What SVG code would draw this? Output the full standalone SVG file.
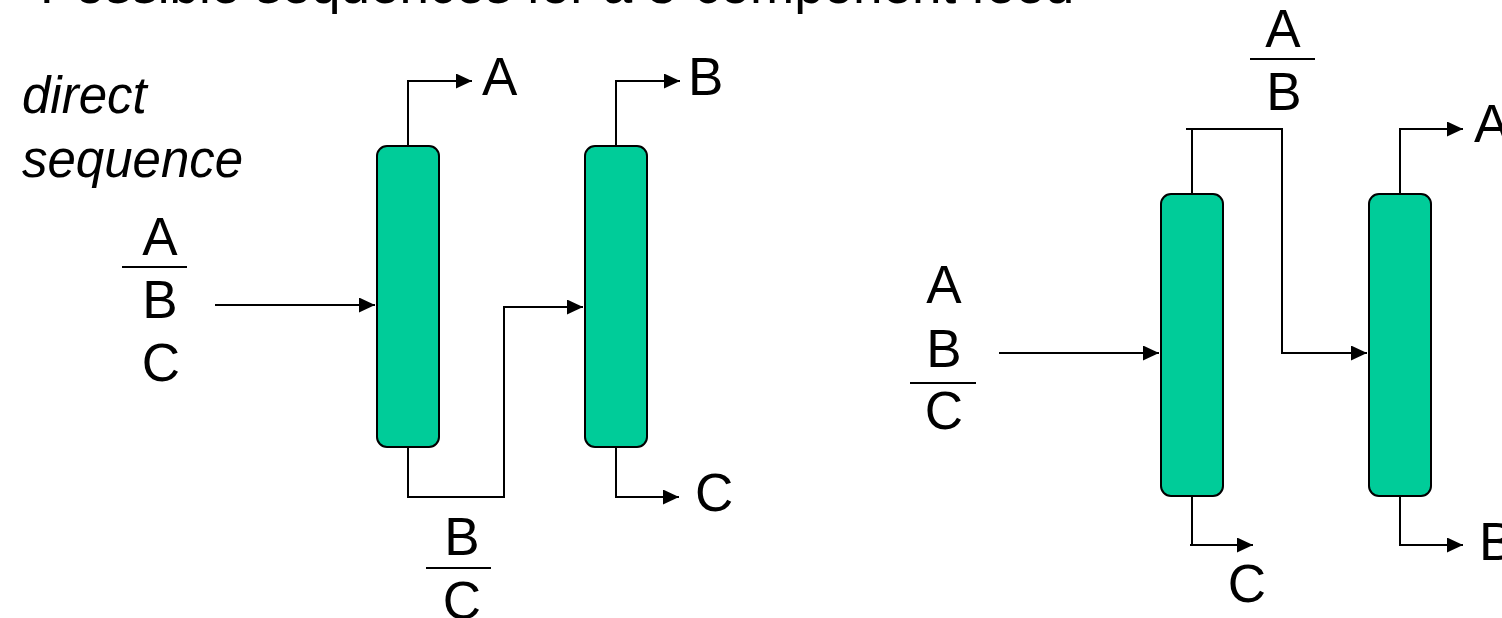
<svg xmlns="http://www.w3.org/2000/svg" width="1502" height="618" viewBox="0 0 1502 618">
  <style>
    text { font-family: "Liberation Sans", Arial, sans-serif; font-size: 53px; fill: #000; }
    .mid { text-anchor: middle; }
    .ital { font-style: italic; font-size: 51px; }
    .column { fill: #00CC99; stroke: #000; stroke-width: 2; }
    .pipe { fill: none; stroke: #000; stroke-width: 2; }
    .flow { fill: none; stroke: #000; stroke-width: 2; marker-end: url(#arrow); }
    .bar { stroke: #000; stroke-width: 2; }
  </style>
  <defs>
    <marker id="arrow" markerUnits="userSpaceOnUse" markerWidth="16" markerHeight="15" refX="16" refY="7.5" orient="auto">
      <path d="M0,0 L16,7.5 L0,15 z" fill="#000"/>
    </marker>
  </defs>

  <rect width="1502" height="618" fill="#fff"/>

  <!-- heading -->
  <text x="40" y="3">Possible sequences for a 3-component feed</text>

  <!-- left scheme caption -->
  <text class="ital" x="22" y="113">direct</text>
  <text class="ital" x="22" y="177">sequence</text>

  <!-- connectors -->
  <g id="connectors">
    <!-- direct sequence -->
    <path class="flow" d="M215,305 H375"/>
    <path class="flow" d="M408,145 V81 H472"/>
    <path class="flow" d="M616,145 V81 H680"/>
    <path class="flow" d="M408,448 V497 H504 V307 H583"/>
    <path class="flow" d="M616,448 V497 H679"/>
    <!-- second sequence -->
    <path class="flow" d="M999,353 H1159"/>
    <path class="pipe" d="M1192,193 V129"/>
    <path class="flow" d="M1186,129 H1282 V353 H1367"/>
    <path class="flow" d="M1400,193 V129 H1463"/>
    <path class="pipe" d="M1192,497 V545"/>
    <path class="flow" d="M1190,545 H1253"/>
    <path class="flow" d="M1400,497 V545 H1463"/>
  </g>

  <!-- columns -->
  <g id="column1"><rect class="column" x="377" y="146" width="62" height="301" rx="10"/></g>
  <g id="column2"><rect class="column" x="585" y="146" width="62" height="301" rx="10"/></g>
  <g id="column3"><rect class="column" x="1161" y="194" width="62" height="302" rx="10"/></g>
  <g id="column4"><rect class="column" x="1369" y="194" width="62" height="302" rx="10"/></g>

  <!-- feed A/B/C, split between A and B -->
  <g id="feed1">
    <text class="mid" x="160" y="255">A</text>
    <line class="bar" x1="122" y1="267" x2="187" y2="267"/>
    <text class="mid" x="160" y="318">B</text>
    <text class="mid" x="161" y="381">C</text>
  </g>

  <!-- product labels, direct sequence -->
  <g id="product-a1"><text x="482" y="95">A</text></g>
  <g id="product-b1"><text x="688" y="95">B</text></g>
  <g id="product-c1"><text x="695" y="511">C</text></g>
  <g id="middle-bc">
    <text class="mid" x="462" y="555">B</text>
    <line class="bar" x1="426" y1="568" x2="491" y2="568"/>
    <text class="mid" x="462" y="619">C</text>
  </g>

  <!-- feed A/B/C, split between B and C -->
  <g id="feed2">
    <text class="mid" x="944" y="303">A</text>
    <text class="mid" x="944" y="367">B</text>
    <line class="bar" x1="910" y1="383" x2="976" y2="383"/>
    <text class="mid" x="944" y="429">C</text>
  </g>
  <g id="top-ab">
    <text class="mid" x="1283" y="47">A</text>
    <line class="bar" x1="1250" y1="59" x2="1315" y2="59"/>
    <text class="mid" x="1284" y="110">B</text>
  </g>
  <g id="product-a2"><text x="1474" y="142">A</text></g>
  <g id="product-c2"><text class="mid" x="1247" y="602">C</text></g>
  <g id="product-b2"><text x="1479" y="560">B</text></g>
</svg>
